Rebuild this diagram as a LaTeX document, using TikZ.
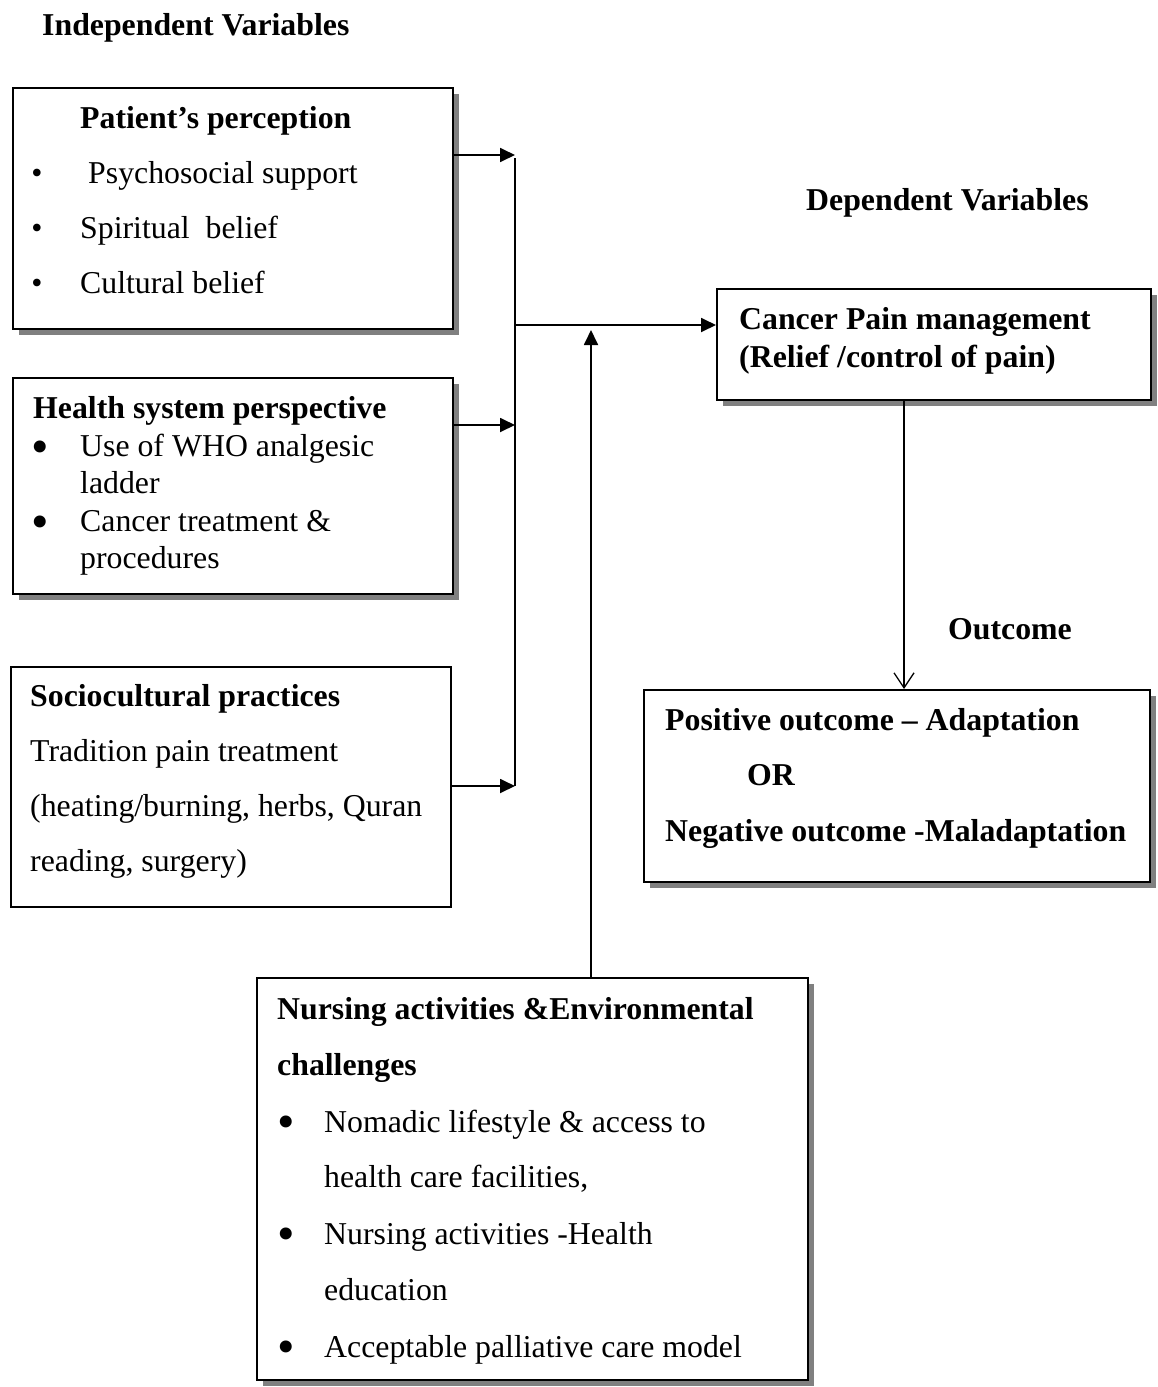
\documentclass[tikz,border=0pt]{standalone}
\usepackage{fontspec}
\setmainfont{Liberation Serif}
\usetikzlibrary{arrows.meta,shadows}
\begin{document}
\begin{tikzpicture}[x=1pt,y=-1pt,
  box/.style={draw=black, line width=2pt, fill=white, rectangle, inner sep=0pt, anchor=north west},
  shadowed/.style={drop shadow={shadow xshift=6pt, shadow yshift=-6pt, fill=black!50, opacity=1}},
  txt/.style={anchor=base west, inner sep=0pt, font=\fontsize{31.8}{37}\selectfont},
  hd/.style={anchor=base west, inner sep=0pt, font=\fontsize{31.8}{37}\selectfont\bfseries},
  sbul/.style={anchor=center, inner sep=0pt, font=\fontsize{31.8}{37}\selectfont},
  bbul/.style={anchor=center, inner sep=0pt, font=\fontsize{50}{56}\selectfont},
  feed/.style={line width=1.8pt, -{Triangle[length=15pt,width=14pt]}},
  ]
\useasboundingbox (0,0) rectangle (1157,1387);

% headings
\node[hd] (indep) at (42,35) {Independent Variables};
\node[hd] (dep) at (806,210) {Dependent Variables};
\node[hd] (outc) at (948,639) {Outcome};

% boxes
\node[box, shadowed, minimum width=440pt, minimum height=241pt] (pp) at (12,87) {};
\node[box, shadowed, minimum width=440pt, minimum height=216pt] (hs) at (12,377) {};
\node[box, minimum width=440pt, minimum height=240pt] (sc) at (10,666) {};
\node[box, shadowed, minimum width=434pt, minimum height=111pt] (cp) at (716,288) {};
\node[box, shadowed, minimum width=506pt, minimum height=192pt] (oc) at (643,689) {};
\node[box, shadowed, minimum width=551pt, minimum height=402pt] (nu) at (256,977) {};

% patient's perception
\node[hd] (pp1) at (80,128) {Patient’s perception};
\node[sbul] (ppb1) at (37,176) {•};
\node[txt] (pp2) at (88,183) {Psychosocial support};
\node[sbul] (ppb2) at (37,231) {•};
\node[txt] (pp3) at (80,238) {Spiritual\ \ belief};
\node[sbul] (ppb3) at (37,286) {•};
\node[txt] (pp4) at (80,293) {Cultural belief};

% health system perspective
\node[hd] (hs1) at (33,418) {Health system perspective};
\node[bbul] (hsb1) at (40,452) {•};
\node[txt] (hs2) at (80,456) {Use of WHO analgesic};
\node[txt] (hs3) at (80,493) {ladder};
\node[bbul] (hsb2) at (40,527) {•};
\node[txt] (hs4) at (80,531) {Cancer treatment \&};
\node[txt] (hs5) at (80,568) {procedures};

% sociocultural practices
\node[hd] (sc1) at (30,706) {Sociocultural practices};
\node[txt] (sc2) at (30,761) {Tradition pain treatment};
\node[txt] (sc3) at (30,816) {(heating/burning, herbs, Quran};
\node[txt] (sc4) at (30,871) {reading, surgery)};

% cancer pain management
\node[hd] (cp1) at (739,329) {Cancer Pain management};
\node[hd] (cp2) at (739,367) {(Relief /control of pain)};

% outcome
\node[hd] (oc1) at (665,730) {Positive outcome – Adaptation};
\node[hd] (oc2) at (747,785) {OR};
\node[hd] (oc3) at (665,841) {Negative outcome -Maladaptation};

% nursing activities
\node[hd] (nu1) at (277,1019) {Nursing activities \&Environmental};
\node[hd] (nu2) at (277,1075) {challenges};
\node[bbul] (nub1) at (286,1127) {•};
\node[txt] (nu3) at (324,1132) {Nomadic lifestyle \& access to};
\node[txt] (nu4) at (324,1187) {health care facilities,};
\node[bbul] (nub2) at (286,1239) {•};
\node[txt] (nu5) at (324,1244) {Nursing activities -Health};
\node[txt] (nu6) at (324,1300) {education};
\node[bbul] (nub3) at (286,1352) {•};
\node[txt] (nu7) at (324,1357) {Acceptable palliative care model};

% junction points
\coordinate (j1) at (515,155);
\coordinate (j2) at (515,425);
\coordinate (j3) at (515,786);
\coordinate (jtop) at (515,158);
\coordinate (jmid) at (515,325);
\coordinate (up) at (591,330);
\coordinate (dn) at (904,0);

% connectors
\draw[feed] (pp.east |- j1) -- (j1);
\draw[feed] (hs.east |- j2) -- (j2);
\draw[feed] (sc.east |- j3) -- (j3);
\draw[line width=1.8pt] (jtop) -- (j3);
\draw[feed] (jmid) -- (cp.west |- jmid);
\draw[feed] (nu.north -| up) -- (up);
\draw[line width=1.3pt, -{Straight Barb[length=15pt,width=20pt]}] (cp.south -| dn) -- (oc.north -| dn);
\end{tikzpicture}
\end{document}
